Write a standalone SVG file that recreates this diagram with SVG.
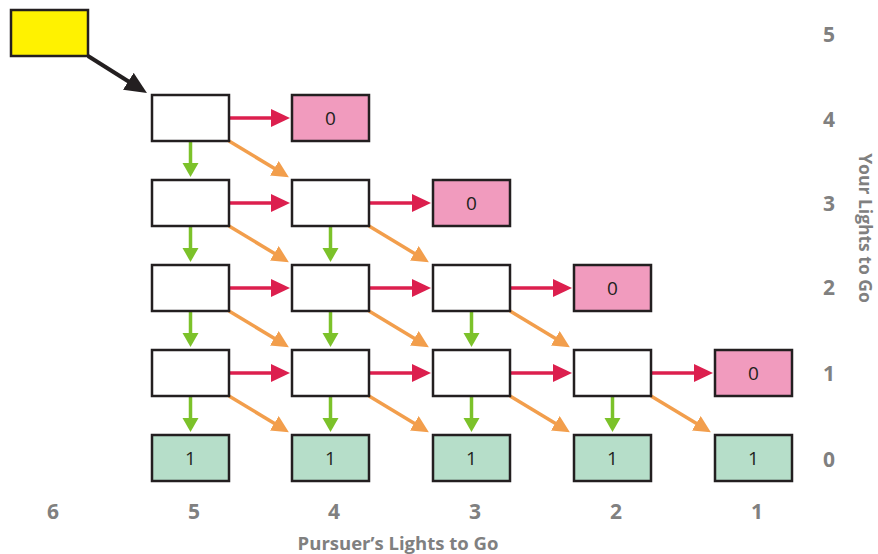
<svg xmlns="http://www.w3.org/2000/svg" width="878" height="554" viewBox="0 0 878 554">
<style>
.box{stroke:#231f20;stroke-width:2.5}
.w{fill:#ffffff}.p{fill:#f19bbe}.g{fill:#b6dec9}.y{fill:#fff200}
.v{font-family:"Open Sans","Liberation Sans",sans-serif;font-size:19px;fill:#231f20;text-anchor:middle;dominant-baseline:central}
.ax{font-family:"Open Sans","Liberation Sans",sans-serif;font-size:21px;font-weight:bold;fill:#808080;text-anchor:middle;dominant-baseline:central}
.lab{font-family:"Open Sans","Liberation Sans",sans-serif;font-size:18.5px;font-weight:bold;fill:#808080;text-anchor:middle;dominant-baseline:central}
.labv{font-family:"Open Sans","Liberation Sans",sans-serif;font-size:17.5px;font-weight:bold;fill:#808080;text-anchor:middle;dominant-baseline:central}
.r{stroke:#dc1f4e;stroke-width:3.5;fill:none;marker-end:url(#mr)}
.gr{stroke:#7cc22a;stroke-width:3.5;fill:none;marker-end:url(#mg)}
.o{stroke:#f29e4c;stroke-width:3.5;fill:none;marker-end:url(#mo)}
.k{stroke:#231f20;stroke-width:4;fill:none;marker-end:url(#mk)}
</style>
<defs>
<marker id="mr" markerUnits="userSpaceOnUse" markerWidth="24" markerHeight="20" refX="11" refY="9" orient="auto"><path d="M0,0 L19,9 L0,18 z" fill="#dc1f4e"/></marker>
<marker id="mg" markerUnits="userSpaceOnUse" markerWidth="20" markerHeight="20" refX="6" refY="8" orient="auto"><path d="M0,0 L14,8 L0,16 z" fill="#7cc22a"/></marker>
<marker id="mo" markerUnits="userSpaceOnUse" markerWidth="24" markerHeight="20" refX="9" refY="8.5" orient="auto"><path d="M0,0 L17,8.5 L0,17 z" fill="#f29e4c"/></marker>
<marker id="mk" markerUnits="userSpaceOnUse" markerWidth="26" markerHeight="22" refX="12" refY="10" orient="auto"><path d="M0,0 L22,10 L0,20 z" fill="#231f20"/></marker>
</defs>
<g id="connectors">
<line class="k" x1="88" y1="56" x2="138.5" y2="87.7"/>
<line class="r" x1="229" y1="118" x2="282" y2="118"/>
<line class="gr" x1="190.5" y1="141" x2="190.5" y2="169"/>
<line class="o" x1="229" y1="141" x2="282" y2="173"/>
<line class="r" x1="229" y1="203" x2="282" y2="203"/>
<line class="r" x1="369" y1="203" x2="423" y2="203"/>
<line class="gr" x1="190.5" y1="226" x2="190.5" y2="254"/>
<line class="gr" x1="330.5" y1="226" x2="330.5" y2="254"/>
<line class="o" x1="229" y1="226" x2="282" y2="258"/>
<line class="o" x1="369" y1="226" x2="422" y2="258"/>
<line class="r" x1="229" y1="288" x2="282" y2="288"/>
<line class="r" x1="369" y1="288" x2="423" y2="288"/>
<line class="r" x1="510" y1="288" x2="564" y2="288"/>
<line class="gr" x1="190.5" y1="311" x2="190.5" y2="339"/>
<line class="gr" x1="330.5" y1="311" x2="330.5" y2="339"/>
<line class="gr" x1="471.5" y1="311" x2="471.5" y2="339"/>
<line class="o" x1="229" y1="311" x2="282" y2="343"/>
<line class="o" x1="369" y1="311" x2="422" y2="343"/>
<line class="o" x1="510" y1="311" x2="563" y2="343"/>
<line class="r" x1="229" y1="373" x2="282" y2="373"/>
<line class="r" x1="369" y1="373" x2="423" y2="373"/>
<line class="r" x1="510" y1="373" x2="564" y2="373"/>
<line class="r" x1="651" y1="373" x2="705" y2="373"/>
<line class="gr" x1="190.5" y1="396" x2="190.5" y2="424"/>
<line class="gr" x1="330.5" y1="396" x2="330.5" y2="424"/>
<line class="gr" x1="471.5" y1="396" x2="471.5" y2="424"/>
<line class="gr" x1="612.5" y1="396" x2="612.5" y2="424"/>
<line class="o" x1="229" y1="396" x2="282" y2="428"/>
<line class="o" x1="369" y1="396" x2="422" y2="428"/>
<line class="o" x1="510" y1="396" x2="563" y2="428"/>
<line class="o" x1="651" y1="396" x2="704" y2="428"/>
</g>
<g id="start"><rect class="box y" x="11" y="10" width="77" height="46"/></g>
<g id="n5_4"><rect class="box w" x="152" y="95" width="77" height="46"/></g>
<g id="n4_4"><rect class="box p" x="292" y="95" width="77" height="46"/><text class="v" x="330.5" y="118">0</text></g>
<g id="n5_3"><rect class="box w" x="152" y="180" width="77" height="46"/></g>
<g id="n4_3"><rect class="box w" x="292" y="180" width="77" height="46"/></g>
<g id="n3_3"><rect class="box p" x="433" y="180" width="77" height="46"/><text class="v" x="471.5" y="203">0</text></g>
<g id="n5_2"><rect class="box w" x="152" y="265" width="77" height="46"/></g>
<g id="n4_2"><rect class="box w" x="292" y="265" width="77" height="46"/></g>
<g id="n3_2"><rect class="box w" x="433" y="265" width="77" height="46"/></g>
<g id="n2_2"><rect class="box p" x="574" y="265" width="77" height="46"/><text class="v" x="612.5" y="288">0</text></g>
<g id="n5_1"><rect class="box w" x="152" y="350" width="77" height="46"/></g>
<g id="n4_1"><rect class="box w" x="292" y="350" width="77" height="46"/></g>
<g id="n3_1"><rect class="box w" x="433" y="350" width="77" height="46"/></g>
<g id="n2_1"><rect class="box w" x="574" y="350" width="77" height="46"/></g>
<g id="n1_1"><rect class="box p" x="715" y="350" width="77" height="46"/><text class="v" x="753.5" y="373">0</text></g>
<g id="n5_0"><rect class="box g" x="152" y="435" width="77" height="46"/><text class="v" x="190.5" y="458">1</text></g>
<g id="n4_0"><rect class="box g" x="292" y="435" width="77" height="46"/><text class="v" x="330.5" y="458">1</text></g>
<g id="n3_0"><rect class="box g" x="433" y="435" width="77" height="46"/><text class="v" x="471.5" y="458">1</text></g>
<g id="n2_0"><rect class="box g" x="574" y="435" width="77" height="46"/><text class="v" x="612.5" y="458">1</text></g>
<g id="n1_0"><rect class="box g" x="715" y="435" width="77" height="46"/><text class="v" x="753.5" y="458">1</text></g>
<g id="axes">
<text class="ax" x="829" y="34">5</text>
<text class="ax" x="829" y="119">4</text>
<text class="ax" x="829" y="203">3</text>
<text class="ax" x="829" y="287">2</text>
<text class="ax" x="829" y="373">1</text>
<text class="ax" x="829" y="459">0</text>
<text class="ax" x="53" y="511">6</text>
<text class="ax" x="194" y="511">5</text>
<text class="ax" x="334" y="511">4</text>
<text class="ax" x="475" y="511">3</text>
<text class="ax" x="616" y="511">2</text>
<text class="ax" x="757" y="511">1</text>
<text class="lab" x="398" y="542">Pursuer’s Lights to Go</text>
<text class="labv" transform="translate(866,228) rotate(90)" x="0" y="0">Your Lights to Go</text>
</g>
</svg>
